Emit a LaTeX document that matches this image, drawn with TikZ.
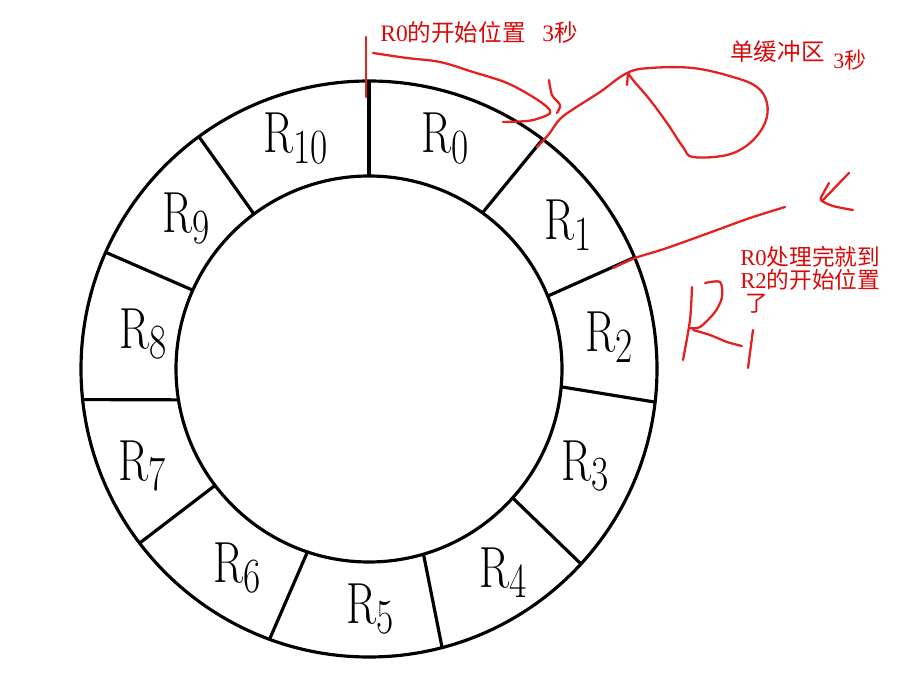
\documentclass[tikz,border=0pt]{standalone}
\usepackage{fontspec}
\usepackage{graphicx}
\newfontfamily\cjk{Noto Sans CJK SC}
\newfontfamily\tms{Liberation Serif}
\definecolor{ink}{RGB}{228,32,32}
\definecolor{notered}{RGB}{215,10,10}
\newcommand{\Rn}[1]{\scalebox{.76}[1]{R\raisebox{-6.2pt}{\fontsize{28}{28}\selectfont #1}}}

\begin{document}
\begin{tikzpicture}[x=0.2mm,y=0.2mm,
  ring/.style={line width=1.8pt},
  seg/.style={font=\fontsize{33}{33}\selectfont,anchor=base,inner sep=0pt},
  pen/.style={ink,line width=1.3pt,line cap=round,line join=round},
  note/.style={text=notered,font=\cjk\fontsize{13.4}{12.8}\selectfont,anchor=base west,inner sep=0pt}]
  \useasboundingbox (0,0) rectangle (903,686);
  % the ring of buffers
  \begin{scope}[shift={(369,317)}]
    \draw[ring] (0,0) circle (288);
    \draw[ring] (0,0) circle (193);
    \foreach \i/\o in {90/90,54/52.9,22.2/22.8,-5.3/-6.6,-41.9/-42.6,-73.6/-75.3,
                       251.4/249.8,217.1/217.2,189.2/186.1,155.9/156.1,126.6/126.2}
      \draw[ring] (\i:193) -- (\o:288);
  \end{scope}
  \node[seg] (r0)  at (445,533) {\Rn{0}};
  \node[seg] (r1)  at (568,446) {\Rn{1}};
  \node[seg] (r2)  at (609,334) {\Rn{2}};
  \node[seg] (r3)  at (585,206) {\Rn{3}};
  \node[seg] (r4)  at (503,99)  {\Rn{4}};
  \node[seg] (r5)  at (370,63)  {\Rn{5}};
  \node[seg] (r6)  at (237,104) {\Rn{6}};
  \node[seg] (r7)  at (142,206) {\Rn{7}};
  \node[seg] (r8)  at (143,338) {\Rn{8}};
  \node[seg] (r9)  at (186,453) {\Rn{9}};
  \node[seg] (r10) at (296,533) {\Rn{10}};
  % red notes
  \node[note] (start) at (380,644) {{\tms R0}的开始位置};
  \node[note] (sec1)  at (542,644) {{\tms 3}秒};
  \node[note] (buf)   at (730,625) {单缓冲区};
  \node[note,font=\cjk\fontsize{12.5}{12.5}\selectfont] (sec2) at (833,617) {{\tms 3}秒};
  \node[note,align=left,font=\cjk\fontsize{12.9}{13.2}\selectfont] (done) at (740,374)
    {{\tms R0}处理完就到\\{\tms R2}的开始位置\\\hspace{3pt}了};
  % pen strokes
  \draw[pen] (366,649) -- (366,589);
  \draw[pen] plot[smooth,tension=.6] coordinates {(373,633) (407,628) (440,624) (473,614) (507,603) (533,589) (547,579) (550,573) (540,568) (527,565) (503,564)};
  \draw[pen] plot[smooth] coordinates {(549,606) (552,591) (560,581) (557,573)};
  \draw[pen] plot[smooth,tension=.6] coordinates {(537,539) (549,552) (560,567) (575,578) (600,594) (627,613) (650,618) (693,618) (733,609) (757,599) (767,583) (765,563) (750,543) (727,531) (693,529) (683,539) (667,563) (650,586) (633,606) (628,613)};
  \draw[pen] (628,613) -- (627,601);
  \draw[pen] plot[smooth] coordinates {(613,418) (635,428) (667,438) (717,456) (750,468) (785,479)};
  \draw[pen] (849,513) -- (822,485);
  \draw[pen] plot[smooth] coordinates {(829,503) (824,494) (821,486) (833,480) (853,476)};
  % hand-written R1
  \draw[pen] plot[smooth] coordinates {(692,399) (690,366) (683,326)};
  \draw[pen] plot[smooth] coordinates {(705,403) (720,404) (722,389) (715,374) (700,359) (690,358)};
  \draw[pen] plot[smooth] coordinates {(693,356) (710,351) (727,344) (742,340)};
  \draw[pen] (753,356) -- (748,318);
\end{tikzpicture}
\end{document}
